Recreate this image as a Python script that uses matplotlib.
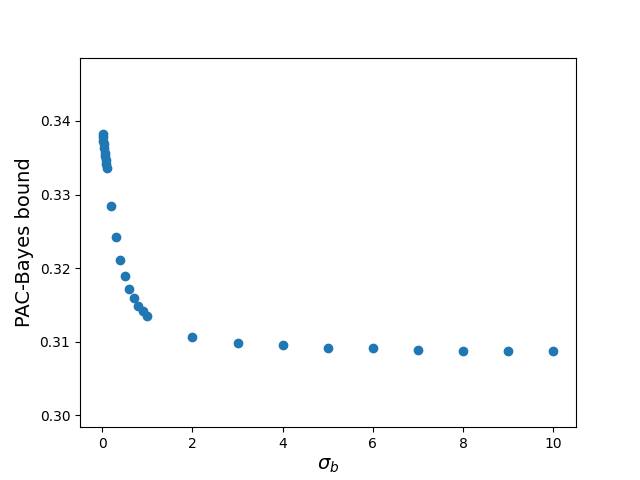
import numpy as np
import matplotlib.pyplot as plt

# sigma_b values
sigmas = [0.01, 0.02, 0.03, 0.04, 0.05, 0.06, 0.07, 0.08, 0.09, 0.1,
          0.2, 0.3, 0.4, 0.5, 0.6, 0.7, 0.8, 0.9, 1.0,
          2, 3, 4, 5, 6, 7, 8, 9, 10]

# PAC-Bayes bound
bounds = [0.3382, 0.3378, 0.3373, 0.3368, 0.3363, 0.3357, 0.3352, 0.3347, 0.3341, 0.3336,
          0.3284, 0.3242, 0.3211, 0.3189, 0.3172, 0.3160, 0.3149, 0.3142, 0.3135,
          0.3107, 0.3099, 0.3095, 0.3091, 0.3091, 0.3089, 0.3088, 0.3087, 0.3087]

plt.figure(figsize=(6.4, 4.8), dpi=100)
plt.scatter(sigmas, bounds)
plt.ylim(0.2984, 0.3486)
plt.xlabel(r"$\sigma_b$", fontsize=14)
plt.ylabel("PAC-Bayes bound", fontsize=14)
plt.savefig("out.png")
